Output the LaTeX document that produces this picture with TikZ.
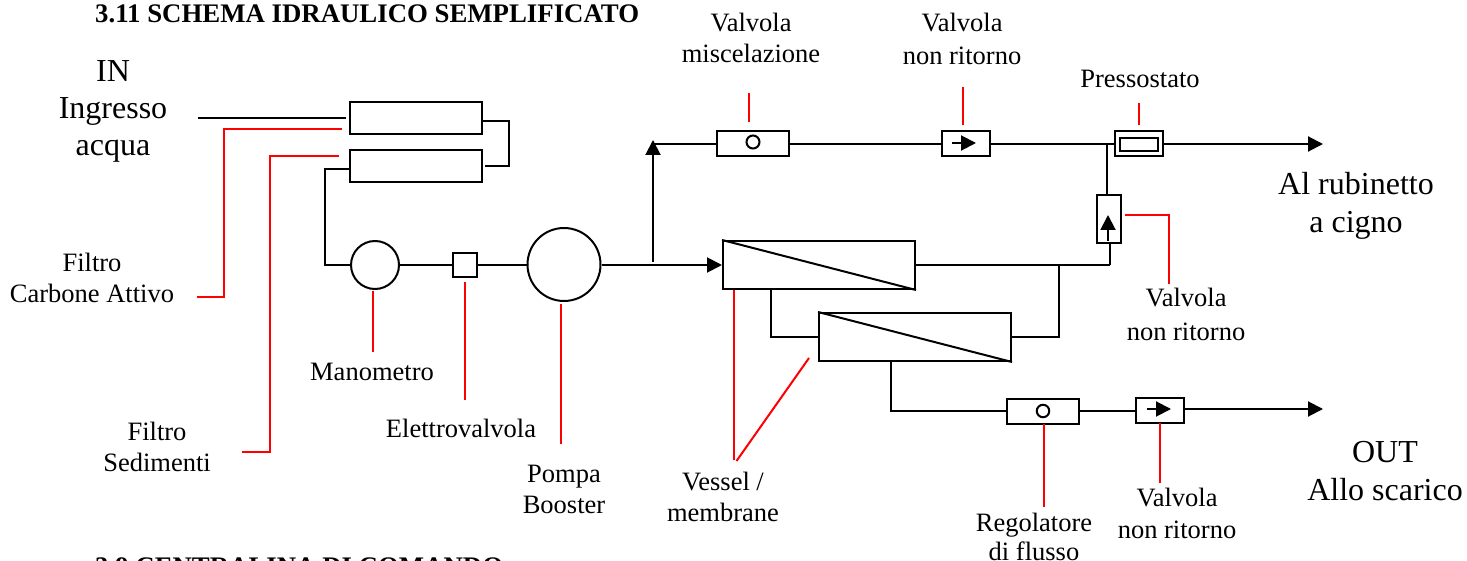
\documentclass[tikz,border=0pt]{standalone}
\usepackage{fontspec}
\setmainfont{Liberation Serif}
\usetikzlibrary{arrows.meta}
\tikzset{
  pipe/.style={draw=black,line width=2pt},
  lead/.style={draw=red,line width=2pt},
  tip/.style={-{Triangle[length=15pt,width=15pt]}},
  hbox/.style={draw=black,line width=2pt,fill=white,inner sep=0pt,minimum width=#1,minimum height=25pt},
  filterbox/.style={draw=black,line width=2pt,fill=white,inner sep=0pt,minimum width=132pt,minimum height=32pt},
  vessel/.style={draw=black,line width=2pt,fill=white,inner sep=0pt,minimum width=192pt,minimum height=48pt},
  disc/.style={draw=black,line width=2pt,fill=white,circle,inner sep=0pt,minimum size=#1},
  lab/.style={font=\fontsize{26.5pt}{26.5pt}\selectfont,anchor=base,inner sep=0pt,yshift=-1pt},
  big/.style={font=\fontsize{32pt}{32pt}\selectfont,anchor=base,inner sep=0pt,yshift=-1pt},
  head/.style={font=\bfseries\fontsize{26.8pt}{26.8pt}\selectfont,anchor=base west,inner sep=0pt,yshift=-1pt},
}
\begin{document}
\begin{tikzpicture}[x=1pt,y=-1pt]
\useasboundingbox (0,0) rectangle (1467,561);
\clip (0,0) rectangle (1467,561);
% components
\node[filterbox] (f1) at (416,118.5) {};
\node[filterbox] (f2) at (416,166.5) {};
\node[disc=48pt] (mano) at (375,265) {};
\node[draw=black,line width=2pt,fill=white,inner sep=0pt,minimum size=24pt] (ev) at (465,265) {};
\node[disc=73pt] (pump) at (564,264.5) {};
\node[vessel] (v1) at (819,265) {};
\node[vessel] (v2) at (915,337) {};
\node[hbox=72pt] (vm) at (753,143.5) {};
\node[disc=13pt] (vmc) at (753,142) {};
\node[hbox=48pt] (vr1) at (965.5,143.5) {};
\node[hbox=48pt] (pr) at (1139,143.5) {};
\node[draw=black,line width=2pt,inner sep=0pt,minimum width=38pt,minimum height=13pt] (pri) at (1139,145) {};
\node[draw=black,line width=2pt,fill=white,inner sep=0pt,minimum width=24pt,minimum height=48pt] (vr2) at (1108.5,219.5) {};
\node[hbox=72pt] (rf) at (1043,411) {};
\node[disc=12.5pt] (rfc) at (1043,411) {};
\node[hbox=48pt] (vr3) at (1160,410) {};
% free ends and bends
\coordinate (inS) at (198,118);
\coordinate (inE) at (346,118);
\coordinate (j1) at (509,121);
\coordinate (j2) at (509,166);
\coordinate (j2e) at (485,166);
\coordinate (k1) at (325,169);
\coordinate (k2) at (325,265);
\coordinate (upS) at (653,262);
\coordinate (upE) at (653,140);
\coordinate (top0) at (653,144);
\coordinate (br) at (1107,144);
\coordinate (outTop) at (1323,144);
\coordinate (outBot) at (1323,409);
\coordinate (m1) at (1110,265);
\coordinate (m2) at (1059,265);
\coordinate (m3) at (1059,337);
\coordinate (n1) at (771,337);
\coordinate (n2) at (771,289);
\coordinate (o1) at (891,361);
\coordinate (o2) at (891,411);
\coordinate (pe) at (564,265);
\coordinate (p1) at (717,144);
\coordinate (p2) at (789,144);
\coordinate (p3) at (941,144);
\coordinate (p4) at (990,144);
\coordinate (p5) at (1115,144);
\coordinate (p6) at (1163,144);
% pipes
\draw[pipe] (inS) -- (inE);
\draw[pipe] (f1.east |- j1) -- (j1) -- (j2);
\draw[pipe] (j2e) -- ([xshift=1pt]j2);
\draw[pipe] (f2.west |- k1) -- (k1) -- (k2) -- (mano.west);
\draw[pipe] (mano.east) -- (ev.west);
\draw[pipe] (ev.east) -- (pump.west |- ev.east);
\draw[pipe,tip] (pump.east |- pe) -- (v1.west);
\draw[pipe,tip] (upS) -- (upE);
\draw[pipe] (top0) -- (vm.west |- top0);
\draw[pipe] (vm.east |- p2) -- (vr1.west |- p3);
\draw[pipe] (vr1.east |- p4) -- (pr.west |- p5);
\draw[pipe,tip] (pr.east |- p6) -- (outTop);
\draw[pipe] (br) -- (vr2.north -| br);
\draw[pipe] (vr2.south -| m1) -- (m1);
\draw[pipe] (v1.east) -- (m1);
\draw[pipe] (m2) -- (m3) -- (v2.east);
\draw[pipe] (n2) -- (n1) -- (v2.west);
\draw[pipe] (o1) -- (o2) -- (rf.west);
\draw[pipe] (rf.east) -- (vr3.west |- rf.east);
\draw[pipe,tip] (vr3.east |- outBot) -- (outBot);
% vessel diagonals
\draw[pipe] (v1.north west) -- (v1.south east);
\draw[pipe] (v2.north west) -- (v2.south east);
% check valve arrows
\coordinate (a1s) at (952,143);
\coordinate (a1e) at (976,143);
\draw[pipe,tip] (a1s) -- (a1e);
\coordinate (a2s) at (1147,409);
\coordinate (a2e) at (1171,409);
\draw[pipe,tip] (a2s) -- (a2e);
\coordinate (a3s) at (1108,241);
\coordinate (a3e) at (1108,215);
\draw[pipe,tip] (a3s) -- (a3e);
% red leaders
\coordinate (r1a) at (197,297); \coordinate (r1b) at (224,297); \coordinate (r1c) at (224,129); \coordinate (r1d) at (342,129);
\draw[lead] (r1a) -- (r1b) -- (r1c) -- (r1d);
\coordinate (r2a) at (242,452); \coordinate (r2b) at (270,452); \coordinate (r2c) at (270,156); \coordinate (r2d) at (339,156);
\draw[lead] (r2a) -- (r2b) -- (r2c) -- (r2d);
\coordinate (r3) at (373,352); \coordinate (r3t) at (373,291);
\draw[lead] (r3t) -- (r3);
\coordinate (r4) at (465,400); \coordinate (r4t) at (465,282);
\draw[lead] (r4t) -- (r4);
\coordinate (r5) at (561,444); \coordinate (r5t) at (561,304);
\draw[lead] (r5t) -- (r5);
\coordinate (r6a) at (734,290); \coordinate (r6b) at (734,460);
\draw[lead] (r6a) -- (r6b);
\coordinate (r7a) at (809,358); \coordinate (r7b) at (736.5,461);
\draw[lead] (r7a) -- (r7b);
\coordinate (r8a) at (749,93); \coordinate (r8b) at (749,122);
\draw[lead] (r8a) -- (r8b);
\coordinate (r9a) at (963,87); \coordinate (r9b) at (963,125);
\draw[lead] (r9a) -- (r9b);
\coordinate (r10a) at (1139,103); \coordinate (r10b) at (1139,125);
\draw[lead] (r10a) -- (r10b);
\coordinate (r11a) at (1125,215); \coordinate (r11b) at (1169,215); \coordinate (r11c) at (1169,284);
\draw[lead] (r11a) -- (r11b) -- (r11c);
\coordinate (r12a) at (1044,424); \coordinate (r12b) at (1044,507);
\draw[lead] (r12a) -- (r12b);
\coordinate (r13a) at (1160,423); \coordinate (r13b) at (1160,483);
\draw[lead] (r13a) -- (r13b);
% texts
\node[head] (t1) at (95,22) {3.11 SCHEMA IDRAULICO SEMPLIFICATO};
\node[head] (t2) at (95,574) {3.9 CENTRALINA DI COMANDO};
\node[big] (l1) at (113,81) {IN};
\node[big] (l2) at (113,118) {Ingresso};
\node[big] (l3) at (113,155) {acqua};
\node[lab] (l4) at (751,31) {Valvola};
\node[lab] (l5) at (751,62) {miscelazione};
\node[lab] (l6) at (962,31) {Valvola};
\node[lab] (l7) at (962,64) {non ritorno};
\node[lab] (l8) at (1140,87) {Pressostato};
\node[big] (l9) at (1356,194) {Al rubinetto};
\node[big] (l10) at (1356,232) {a cigno};
\node[lab] (l11) at (1186,306) {Valvola};
\node[lab] (l12) at (1186,339) {non ritorno};
\node[lab] (l13) at (92,271) {Filtro};
\node[lab] (l14) at (92,302) {Carbone Attivo};
\node[lab] (l15) at (372,379) {Manometro};
\node[lab] (l16) at (157,439) {Filtro};
\node[lab] (l17) at (157,470) {Sedimenti};
\node[lab] (l18) at (461,436) {Elettrovalvola};
\node[lab] (l19) at (564,481) {Pompa};
\node[lab] (l20) at (564,512) {Booster};
\node[lab] (l21) at (723,489) {Vessel /};
\node[lab] (l22) at (723,520) {membrane};
\node[lab] (l23) at (1034,530) {Regolatore};
\node[lab] (l24) at (1034,559) {di flusso};
\node[lab] (l25) at (1177,505) {Valvola};
\node[lab] (l26) at (1177,537) {non ritorno};
\node[big] (l27) at (1385,461) {OUT};
\node[big] (l28) at (1385,499) {Allo scarico};
\end{tikzpicture}
\end{document}
